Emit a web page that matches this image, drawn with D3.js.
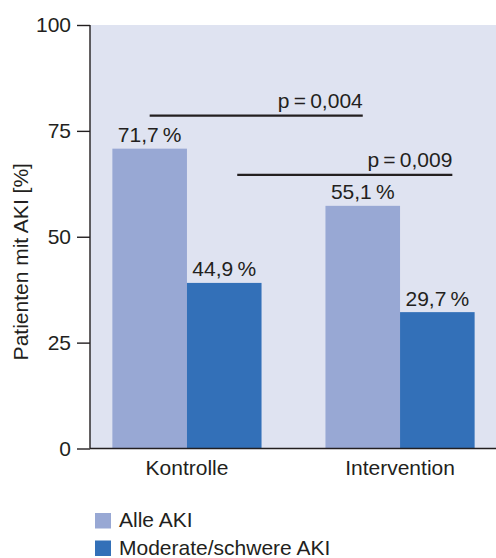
<!DOCTYPE html>
<html>
<head>
<meta charset="utf-8">
<script src="https://cdn.jsdelivr.net/npm/d3@7"></script>
<style>
  html, body { margin: 0; padding: 0; background: #ffffff; }
  svg { display: block; }
  text { font-family: "Liberation Sans", Arial, Helvetica, sans-serif; fill: #231f20; }
</style>
</head>
<body>
<div id="chart"></div>
<script>
// ---- data ----
const categories = ["Kontrolle", "Intervention"];
const seriesNames = ["Alle AKI", "Moderate/schwere AKI"];
// bar heights as drawn in the picture (percent)
const alleAKI = [70.8, 57.3];
const moderateAKI = [39.1, 32.2];
// value labels printed above the bars
const alleLabels = ["71,7\u2009%", "55,1\u2009%"];
const moderateLabels = ["44,9\u2009%", "29,7\u2009%"];
const yTicks = [0, 25, 50, 75, 100];
// significance brackets: series index, y level (percent), label
const sigSeries = [0, 1];
const sigLevels = [78.6, 64.6];
const sigLabels = ["p\u2009=\u20090,004", "p\u2009=\u20090,009"];

// ---- layout ----
const W = 496, H = 558;
const colors = ["#98a8d4", "#3370b8"];
const bgColor = "#dfe3f1";
const ink = "#231f20";

const svg = d3.select("#chart").append("svg")
  .attr("width", W).attr("height", H);

const x0 = 90, x1 = 497, yTop = 25, yBot = 448.5;

const x = d3.scaleBand().domain(categories).range([x0, x1])
  .paddingInner(0.30).paddingOuter(0.105);
const xs = d3.scaleBand().domain(d3.range(seriesNames.length))
  .range([0, x.bandwidth()]);
const y = d3.scaleLinear().domain([0, 100]).range([yBot, yTop]);

// plot background
svg.append("rect")
  .attr("x", x0).attr("y", y(100))
  .attr("width", W - x0).attr("height", y(0) - y(100))
  .attr("fill", bgColor);

const series = [alleAKI, moderateAKI];
const labels = [alleLabels, moderateLabels];

// bars
series.forEach((vals, si) => {
  svg.append("g").selectAll("rect")
    .data(vals)
    .join("rect")
    .attr("x", (d, i) => x(categories[i]) + xs(si))
    .attr("y", d => y(d))
    .attr("width", xs.bandwidth())
    .attr("height", d => y(0) - y(d))
    .attr("fill", colors[si]);
  svg.append("g").selectAll("text")
    .data(vals)
    .join("text")
    .attr("x", (d, i) => x(categories[i]) + xs(si) + xs.bandwidth() / 2)
    .attr("y", d => y(d) - 6.5)
    .attr("text-anchor", "middle")
    .attr("font-size", 21)
    .text((d, i) => labels[si][i]);
});

// significance brackets
const sigOffsets = [[0, 0], [13, 15]];
sigSeries.forEach((si, k) => {
  const xa = x(categories[0]) + xs(si) + xs.bandwidth() / 2 + sigOffsets[k][0];
  const xb = x(categories[1]) + xs(si) + xs.bandwidth() / 2 + sigOffsets[k][1];
  svg.append("line")
    .attr("x1", xa).attr("x2", xb)
    .attr("y1", y(sigLevels[k])).attr("y2", y(sigLevels[k]))
    .attr("stroke", ink).attr("stroke-width", 2.2);
  svg.append("text")
    .attr("x", xb).attr("y", y(sigLevels[k]) - 8)
    .attr("text-anchor", "end")
    .attr("font-size", 21)
    .text(sigLabels[k]);
});

// y axis
const yAxis = svg.append("g")
  .attr("transform", `translate(${x0},0)`)
  .call(d3.axisLeft(y).tickValues(yTicks).tickSize(13).tickPadding(6));
yAxis.select(".domain").attr("stroke", ink).attr("stroke-width", 1.4)
  .attr("d", `M0,${y(100)}V${y(0)}`);
yAxis.selectAll(".tick line").attr("stroke", ink).attr("stroke-width", 1.4);
yAxis.selectAll(".tick text")
  .attr("font-size", 21)
  .attr("font-family", "Liberation Sans, Arial, sans-serif")
  .attr("fill", ink);

// x axis
const xAxis = svg.append("g")
  .attr("transform", `translate(0,${y(0)})`)
  .call(d3.axisBottom(x).tickSize(0).tickPadding(12));
xAxis.select(".domain").attr("stroke", ink).attr("stroke-width", 1.4)
  .attr("d", `M${x0},0H${W}`);
xAxis.selectAll(".tick text")
  .attr("font-size", 21)
  .attr("font-family", "Liberation Sans, Arial, sans-serif")
  .attr("fill", ink);

// y axis title
svg.append("text")
  .attr("transform", `translate(28,${(y(0) + y(100)) / 2 + 25}) rotate(-90)`)
  .attr("text-anchor", "middle")
  .attr("font-size", 21)
  .text("Patienten mit AKI [%]");

// legend
const legend = svg.append("g").attr("transform", "translate(95,513)");
seriesNames.forEach((name, i) => {
  const g = legend.append("g").attr("transform", `translate(0,${i * 27.5})`);
  g.append("rect").attr("width", 16).attr("height", 15.5).attr("fill", colors[i]);
  g.append("text").attr("x", 24).attr("y", 14).attr("font-size", 21).text(name);
});
</script>
</body>
</html>
